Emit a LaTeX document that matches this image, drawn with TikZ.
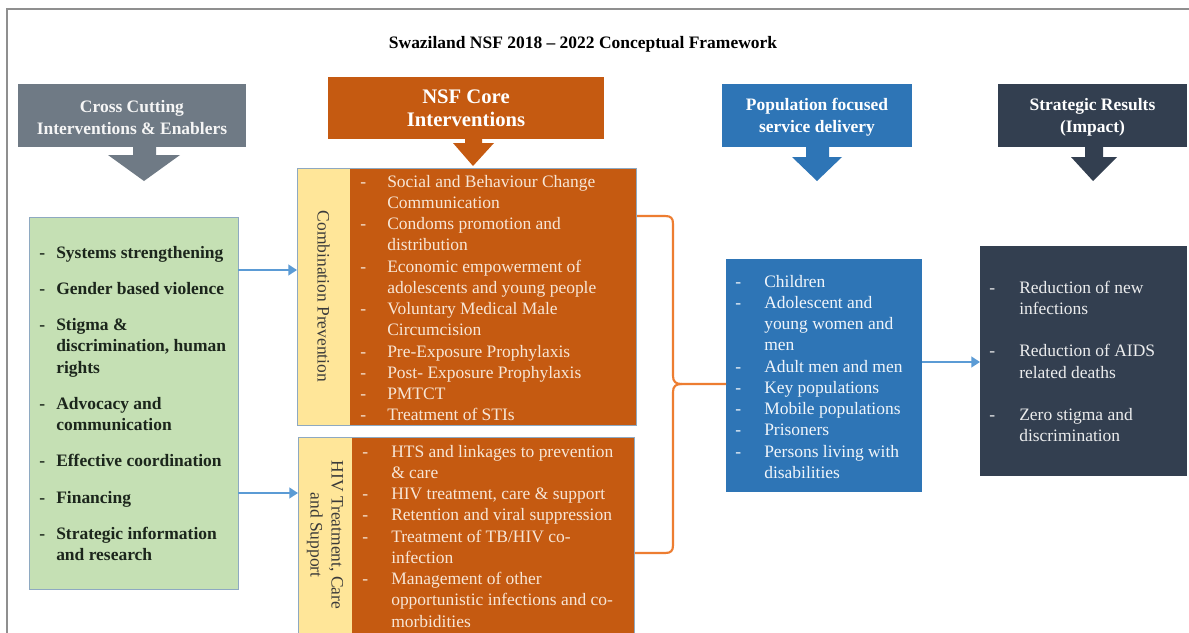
\documentclass[tikz,border=0pt]{standalone}
\usepackage{fontspec}
\setmainfont{Liberation Serif}
\usepackage{array}
\usetikzlibrary{fit,arrows.meta}
\definecolor{orangeF}{HTML}{C55A11}
\definecolor{yellowF}{HTML}{FFE699}
\definecolor{greenF}{HTML}{C5E0B4}
\definecolor{blueF}{HTML}{2E75B6}
\definecolor{darkF}{HTML}{333F50}
\definecolor{grayF}{HTML}{6F7A85}
\definecolor{braceC}{HTML}{ED7D31}
\definecolor{arrowC}{HTML}{5B9BD5}
\definecolor{borderC}{HTML}{8EA9C1}
\definecolor{frameC}{HTML}{8F8F8F}
\definecolor{creamT}{HTML}{F7E6D6}
\definecolor{greenT}{HTML}{1C261C}
\definecolor{yelT}{HTML}{3A3A3A}
\newcommand{\bodyf}{\fontsize{13.1}{15.95}\selectfont}
\tikzset{
  area/.style={inner sep=0pt, outer sep=0pt, draw=none},
  edge/.style={inner sep=0pt, outer sep=0pt, draw=borderC, line width=0.6pt},
  hdrtext/.style={inner sep=0pt, align=center, text=white, font=\fontsize{13.1}{16.5}\selectfont\bfseries},
  listtext/.style={inner sep=0pt, anchor=base west, font=\bodyf},
  conn/.style={draw=arrowC, line width=2.2pt, -{Triangle[length=6.5pt,width=8pt]}},
  bracec/.style={draw=braceC, line width=1.6pt, line join=round},
}
\begin{document}
\begin{tikzpicture}[x=0.75pt,y=-0.75pt]
\useasboundingbox (0,0) rectangle (1189,632);
\clip (0,0) rectangle (1189,632);
\fill[white] (0,0) rectangle (1189,632);
\draw[frameC, line width=1.3pt] (7,640) -- (7,9) -- (1195,9);

% title
\node[inner sep=0pt, anchor=base, font=\fontsize{13.1}{16}\selectfont\bfseries] (title) at (583,48) {Swaziland NSF 2018 – 2022 Conceptual Framework};

% headers
\node[area, fill=grayF, fit={(18,84) (246,147)}] (h1) {};
\node[hdrtext, text=white!92!gray] (h1t) at ([yshift=-1.5]h1.center) {Cross Cutting\\Interventions \& Enablers};
\fill[grayF] (133,146) -- (156,146) -- (156,155) -- (180,155) -- (144,181) -- (108,155) -- (133,155) -- cycle;

\node[area, fill=orangeF, fit={(328,77) (604,139)}] (h2) {};
\node[hdrtext, font=\fontsize{15.5}{17.5}\selectfont\bfseries] (h2t) at (h2.center) {NSF Core\\Interventions};
\fill[orangeF] (465,138) -- (482,138) -- (482,143) -- (494,143) -- (473,166) -- (453,143) -- (465,143) -- cycle;

\node[area, fill=blueF, fit={(722,84) (912,147)}] (h3) {};
\node[hdrtext] (h3t) at ([yshift=-1.5]h3.center) {Population focused\\service delivery};
\fill[blueF] (806,146) -- (829,146) -- (829,157) -- (842,157) -- (817,181) -- (792,157) -- (806,157) -- cycle;

\node[area, fill=darkF, fit={(998,84) (1187,147)}] (h4) {};
\node[hdrtext] (h4t) at ([yshift=-1.5]h4.center) {Strategic Results\\(Impact)};
\fill[darkF] (1085,146) -- (1103,146) -- (1103,157) -- (1117,157) -- (1093,181) -- (1071,157) -- (1085,157) -- cycle;

% green box
\node[edge, fill=greenF, fit={(29,217) (238,589)}] (g) {};
\node[listtext, text=greenT, font=\bodyf\bfseries] (gt) at (39,258) {%
\begin{tabular}[t]{@{}p{12.75pt}@{}l@{}}
- & Systems strengthening\\[11.25pt]
- & Gender based violence\\[11.25pt]
- & Stigma \&\\
  & discrimination, human\\
  & rights\\[11.25pt]
- & Advocacy and\\
  & communication\\[11.25pt]
- & Effective coordination\\[11.25pt]
- & Financing\\[11.25pt]
- & Strategic information\\
  & and research
\end{tabular}};

% combination prevention
\node[area, fill=yellowF, fit={(297,168) (350,425)}] (cy) {};
\node[area, fill=orangeF, fit={(350,168) (636,425)}] (co) {};
\node[edge, fit={(297,168) (636,425)}] (cb) {};
\node[inner sep=0pt, rotate=-90, text=yelT, font=\bodyf] (cyt) at (cy.center) {Combination Prevention};
\node[listtext, text=creamT] (cot) at (360,187) {%
\begin{tabular}[t]{@{}p{20.25pt}@{}l@{}}
- & Social and Behaviour Change\\
  & Communication\\
- & Condoms promotion and\\
  & distribution\\
- & Economic empowerment of\\
  & adolescents and young people\\
- & Voluntary Medical Male\\
  & Circumcision\\
- & Pre-Exposure Prophylaxis\\
- & Post- Exposure Prophylaxis\\
- & PMTCT\\
- & Treatment of STIs
\end{tabular}};

% HIV treatment
\node[area, fill=yellowF, fit={(298,437) (352,645)}] (hy) {};
\node[area, fill=orangeF, fit={(352,437) (634,645)}] (ho) {};
\node[edge, fit={(298,437) (634,645)}] (hb) {};
\node[inner sep=0pt, rotate=-90, align=center, text=yelT, font=\fontsize{13.1}{15.8}\selectfont] (hyt) at (325,535) {HIV Treatment, Care\\and Support};
\node[listtext, text=creamT] (hot) at (362,457) {%
\begin{tabular}[t]{@{}p{21.75pt}@{}l@{}}
- & HTS and linkages to prevention\\
  & \& care\\
- & HIV treatment, care \& support\\
- & Retention and viral suppression\\
- & Treatment of TB/HIV co-\\
  & infection\\
- & Management of other\\
  & opportunistic infections and co-\\
  & morbidities
\end{tabular}};

% blue box
\node[area, fill=blueF, fit={(726,259) (922,492)}] (bl) {};
\node[listtext, text=white!93!blueF] (blt) at (735,287) {%
\begin{tabular}[t]{@{}p{21.75pt}@{}l@{}}
- & Children\\
- & Adolescent and\\
  & young women and\\
  & men\\
- & Adult men and men\\
- & Key populations\\
- & Mobile populations\\
- & Prisoners\\
- & Persons living with\\
  & disabilities
\end{tabular}};

% dark box
\node[area, fill=darkF, fit={(980,246) (1187,476)}] (dk) {};
\node[listtext, text=white!90!darkF] (dkt) at (989,293) {%
\begin{tabular}[t]{@{}p{22.5pt}@{}l@{}}
- & Reduction of new\\
  & infections\\
  & \\
- & Reduction of AIDS\\
  & related deaths\\
  & \\
- & Zero stigma and\\
  & discrimination
\end{tabular}};

% connectors
\coordinate (a1) at (0,270);
\coordinate (a2) at (0,493);
\coordinate (a3) at (0,362);
\draw[conn] (g.east |- a1) -- (cb.west |- a1);
\draw[conn] (g.east |- a2) -- (hb.west |- a2);
\draw[conn] (bl.east |- a3) -- (dk.west |- a3);

% brace
\coordinate (bt) at (637,216);
\coordinate (bb) at (635,553);
\coordinate (tip) at (0,384);
\draw[bracec] (bt) -- (665,216) .. controls (671,216) and (673,218) .. (673,224) -- (673,376)
  .. controls (673,382) and (676,384) .. (682,384) -- (bl.west |- tip);
\draw[bracec] (682,384) .. controls (676,384) and (673,386) .. (673,392) -- (673,545)
  .. controls (673,551) and (671,553) .. (665,553) -- (bb);
\end{tikzpicture}
\end{document}
